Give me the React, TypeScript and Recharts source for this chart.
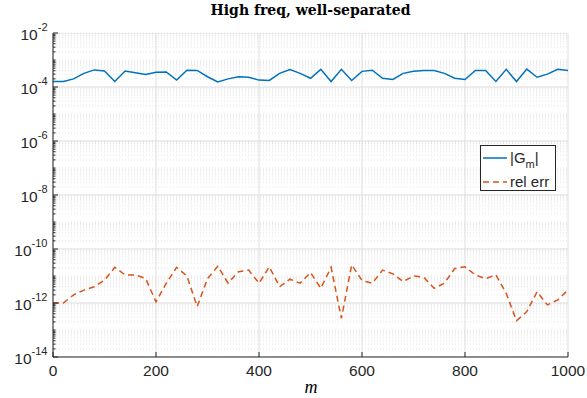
import React from "react";
import {
  LineChart,
  Line,
  XAxis,
  YAxis,
  CartesianGrid,
  ReferenceLine,
  Legend,
} from "recharts";

// sample index m
const mValues = [
  0, 20, 40, 60, 80, 100, 120, 140, 160, 180, 200, 220, 240, 260, 280, 300,
  320, 340, 360, 380, 400, 420, 440, 460, 480, 500, 520, 540, 560, 580, 600,
  620, 640, 660, 680, 700, 720, 740, 760, 780, 800, 820, 840, 860, 880, 900,
  920, 940, 960, 980, 1000,
];

// |G_m|
const gmAbs = [
  1.6e-4, 1.6e-4, 2.0e-4, 3.2e-4, 4.3e-4, 3.9e-4, 1.6e-4, 3.9e-4, 3.4e-4,
  2.9e-4, 3.5e-4, 3.6e-4, 1.8e-4, 4.2e-4, 4.1e-4, 2.4e-4, 1.55e-4, 2.0e-4,
  2.4e-4, 2.3e-4, 1.8e-4, 1.75e-4, 3.2e-4, 4.4e-4, 3.2e-4, 2.1e-4, 4.5e-4,
  1.6e-4, 4.5e-4, 1.75e-4, 3.8e-4, 4.2e-4, 2.1e-4, 1.9e-4, 3.2e-4, 3.8e-4,
  4.1e-4, 4.1e-4, 3.2e-4, 2.1e-4, 1.9e-4, 4.1e-4, 4.1e-4, 1.6e-4, 4.5e-4,
  1.6e-4, 4.6e-4, 2.3e-4, 3.0e-4, 4.5e-4, 4.1e-4,
];

// rel err
const relErr = [
  1.0e-12, 1.0e-12, 2.0e-12, 3.0e-12, 4.0e-12, 7.0e-12, 2.1e-11, 1.1e-11,
  1.1e-11, 8.0e-12, 1.1e-12, 5.4e-12, 2.1e-11, 1.0e-11, 7.4e-13, 8.0e-12,
  2.3e-11, 5.4e-12, 1.45e-11, 1.65e-11, 5.4e-12, 2.2e-11, 4.0e-12, 7.6e-12,
  5.4e-12, 1.35e-11, 3.5e-12, 2.1e-11, 2.7e-13, 2.6e-11, 6.8e-12, 5.4e-12,
  1.65e-11, 1.2e-11, 6.2e-12, 1.0e-11, 9.0e-12, 3.5e-12, 5.4e-12, 1.9e-11,
  2.2e-11, 1.1e-11, 8.0e-12, 1.1e-11, 2.3e-12, 2.2e-13, 4.8e-13, 2.6e-12,
  8.5e-13, 1.3e-12, 3.0e-12,
];

const seriesNames = ["|G_m|", "rel err"];

const xTicks = [0, 200, 400, 600, 800, 1000];
const yLabelExps = [-14, -12, -10, -8, -6, -4, -2];
const yDecadeExps = [-14, -13, -12, -11, -10, -9, -8, -7, -6, -5, -4, -3];
const yMantissas = [1, 2, 3, 4, 5, 6, 7, 8, 9];

const yMajorTicks = yLabelExps.map((e) => Math.pow(10, e));
const yAllTicks = [
  ...yDecadeExps.flatMap((e) => yMantissas.map((k) => k * Math.pow(10, e))),
  1e-2,
];

const data = mValues.map((m, i) => ({ m, gm: gmAbs[i], err: relErr[i] }));

const INK = "#262626";
const SANS = "'Liberation Sans', Arial, Helvetica, sans-serif";
const SERIF = "'DejaVu Serif', 'Liberation Serif', serif";

function isMajor(v: number) {
  const e = Math.round(Math.log10(v));
  return Math.abs(v / Math.pow(10, e) - 1) < 1e-6 && e % 2 === 0;
}

function BottomTick(props: any) {
  const { x, y, payload } = props;
  return (
    <g>
      <line x1={x} y1={y} x2={x} y2={y - 5} stroke={INK} />
      <text x={x} y={y + 19} textAnchor="middle" fontFamily={SANS} fontSize={15.5} fill={INK}>
        {payload.value}
      </text>
    </g>
  );
}

function TopTick(props: any) {
  const { x, y } = props;
  return <line x1={x} y1={y} x2={x} y2={y + 5} stroke={INK} />;
}

function LeftTick(props: any) {
  const { x, y, payload } = props;
  const major = isMajor(payload.value);
  const exp = Math.round(Math.log10(payload.value));
  return (
    <g>
      <line x1={x} y1={y} x2={x + (major ? 5 : 2.5)} y2={y} stroke={INK} />
      {major && (
        <text x={x - 5.5} y={y + 7} textAnchor="end" fontFamily={SANS} fill={INK}>
          <tspan fontSize={15.5}>10</tspan>
          <tspan fontSize={11} dy={-9}>{exp}</tspan>
        </text>
      )}
    </g>
  );
}

function RightTick(props: any) {
  const { x, y, payload } = props;
  const major = isMajor(payload.value);
  return <line x1={x} y1={y} x2={x - (major ? 5 : 2.5)} y2={y} stroke={INK} />;
}

function LegendBox(props: any) {
  const items = [...(props.payload || [])].sort(
    (a: any, b: any) => seriesNames.indexOf(String(a.value)) - seriesNames.indexOf(String(b.value))
  );
  return (
    <svg width={76} height={46} style={{ display: "block" }}>
      <rect x={0.5} y={0.5} width={75} height={45} fill="#fff" stroke={INK} />
      {items.map((it: any, i: number) => {
        const cy = 13 + 24 * i;
        const name = String(it.value);
        const parts = name.split("_");
        return (
          <g key={i}>
            <line
              x1={3}
              x2={27}
              y1={cy}
              y2={cy}
              stroke={it.color}
              strokeWidth={1.5}
              strokeDasharray={it.payload?.strokeDasharray}
            />
            <text x={30} y={cy + 5} fontFamily={SANS} fontSize={15} fill={INK}>
              {parts.length > 1 ? (
                <>
                  <tspan>{parts[0]}</tspan>
                  <tspan fontSize={11} dy={5}>{parts[1].slice(0, -1)}</tspan>
                  <tspan dy={-5}>{parts[1].slice(-1)}</tspan>
                </>
              ) : (
                name
              )}
            </text>
          </g>
        );
      })}
    </svg>
  );
}

export default function App() {
  return (
    <div style={{ position: "absolute", left: 0, top: 0, width: 587, height: 398, background: "#fff" }}>
      <LineChart width={587} height={398} data={data} margin={{ top: 33, right: 19, bottom: 0, left: 0 }}>
        <CartesianGrid xAxisId="x" yAxisId="y" vertical={false} stroke="#e4e4e4" strokeDasharray="1 2" />
        <CartesianGrid xAxisId="x" yAxisId="y" horizontal={false} stroke="#dedede" />
        {yMajorTicks.map((v) => (
          <ReferenceLine key={v} xAxisId="x" yAxisId="y" y={v} stroke="#dedede" ifOverflow="hidden" />
        ))}
        <XAxis
          xAxisId="x"
          dataKey="m"
          type="number"
          domain={[0, 1000]}
          ticks={xTicks}
          interval={0}
          height={41}
          tickSize={0}
          tickMargin={0}
          tickLine={false}
          tick={<BottomTick />}
          axisLine={{ stroke: INK }}
          allowDataOverflow
        />
        <XAxis
          xAxisId="xt"
          orientation="top"
          type="number"
          domain={[0, 1000]}
          ticks={xTicks}
          interval={0}
          height={0}
          tickSize={0}
          tickMargin={0}
          tickLine={false}
          tick={<TopTick />}
          axisLine={{ stroke: INK }}
          allowDataOverflow
        />
        <YAxis
          yAxisId="y"
          scale="log"
          type="number"
          domain={[1e-14, 1e-2]}
          ticks={yAllTicks}
          interval={0}
          width={53}
          tickSize={0}
          tickMargin={0}
          tickLine={false}
          tick={<LeftTick />}
          axisLine={{ stroke: INK }}
          allowDataOverflow
        />
        <YAxis
          yAxisId="yr"
          orientation="right"
          scale="log"
          type="number"
          domain={[1e-14, 1e-2]}
          ticks={yAllTicks}
          interval={0}
          width={0}
          tickSize={0}
          tickMargin={0}
          tickLine={false}
          tick={<RightTick />}
          axisLine={{ stroke: INK }}
          allowDataOverflow
        />
        <Line
          xAxisId="x"
          yAxisId="y"
          type="linear"
          dataKey="gm"
          name={seriesNames[0]}
          stroke="#0072BD"
          strokeWidth={1.5}
          dot={false}
          isAnimationActive={false}
        />
        <Line
          xAxisId="x"
          yAxisId="y"
          type="linear"
          dataKey="err"
          name={seriesNames[1]}
          stroke="#D95319"
          strokeWidth={1.5}
          strokeDasharray="6 4"
          dot={false}
          isAnimationActive={false}
        />
        <Legend
          layout="vertical"
          align="center"
          verticalAlign="middle"
          content={<LegendBox />}
          wrapperStyle={{ left: 480, top: 145, width: 76, height: 46 }}
        />
      </LineChart>
      <svg
        width={587}
        height={398}
        style={{ position: "absolute", left: 0, top: 0, pointerEvents: "none" }}
      >
        <text x={310.5} y={15} textAnchor="middle" fontFamily={SERIF} fontWeight="bold" fontSize={14} fill="#000">
          High freq, well-separated
        </text>
        <text x={311} y={393} textAnchor="middle" fontFamily="'Liberation Serif', serif" fontStyle="italic" fontSize={18} fill="#000">
          m
        </text>
      </svg>
    </div>
  );
}
